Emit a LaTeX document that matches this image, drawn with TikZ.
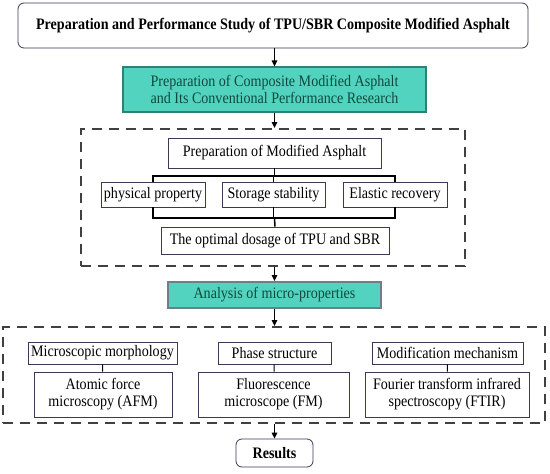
\documentclass[tikz,border=0pt]{standalone}
\usepackage{fontspec}
\setmainfont{Liberation Serif}[FakeStretch=0.88]
\usetikzlibrary{arrows.meta}
\definecolor{tealfill}{HTML}{52D3BF}
\definecolor{tealline}{HTML}{2F8075}
\definecolor{tealtext}{HTML}{0E4A3C}
\definecolor{boxline}{HTML}{3A3A55}
\definecolor{dashline}{HTML}{404040}
\definecolor{graybord}{HTML}{6E7F85}
\begin{document}
\begin{tikzpicture}[x=1pt,y=-1pt,
  box/.style={draw=boxline,line width=0.8pt,fill=white,inner sep=0pt,align=center,
    font=\fontsize{16}{17}\selectfont},
  tealbox/.style={box,draw=tealline,line width=1.2pt,fill=tealfill,text=tealtext},
  dashbox/.style={draw=dashline,line width=2pt,dash pattern=on 10pt off 7pt,inner sep=0pt},
  arr/.style={-{Triangle[length=6pt,width=5.5pt]},line width=1.4pt,black},
  link/.style={line width=1.5pt,black}]
\useasboundingbox (0,0) rectangle (550,474);
\node[box,rounded corners=6pt,minimum width=510,minimum height=45,font=\fontsize{16}{17}\selectfont\bfseries] (title) at (273,25.5) {Preparation and Performance Study of TPU/SBR Composite Modified Asphalt};
\node[tealbox,minimum width=303,minimum height=45] (prep) at (274.5,89.5) {Preparation of Composite Modified Asphalt\\and Its Conventional Performance Research};
\node[dashbox,minimum width=384,minimum height=137] (dashA) at (273,197.5) {};
\node[box,minimum width=213,minimum height=30] (modasp) at (274.5,153) {Preparation of Modified Asphalt};
\node[box,minimum width=104,minimum height=25] (phys) at (153,194.5) {physical property};
\node[box,minimum width=103,minimum height=25] (stor) at (273.5,194.5) {Storage stability};
\node[box,minimum width=104,minimum height=25] (elas) at (395,194.5) {Elastic recovery};
\node[box,minimum width=228,minimum height=27] (opt) at (275,240.5) {The optimal dosage of TPU and SBR};
\node[tealbox,draw=graybord,line width=2pt,minimum width=213,minimum height=26] (ana) at (274.5,295) {Analysis of micro-properties};
\node[dashbox,minimum width=542,minimum height=96] (dashB) at (274,375) {};
\node[box,minimum width=149,minimum height=22] (morph) at (102.5,353) {Microscopic morphology};
\node[box,minimum width=113,minimum height=22] (phase) at (274.5,353) {Phase structure};
\node[box,minimum width=151,minimum height=22] (mech) at (447.5,353) {Modification mechanism};
\node[box,minimum width=138,minimum height=45] (afm) at (103,394.5) {Atomic force\\microscopy (AFM)};
\node[box,minimum width=151,minimum height=45] (fm) at (273.5,394.5) {Fluorescence\\microscope (FM)};
\node[box,minimum width=164,minimum height=45] (ftir) at (447,394.5) {Fourier transform infrared\\spectroscopy (FTIR)};
\node[box,rounded corners=6pt,minimum width=77,minimum height=28,font=\fontsize{16}{17}\selectfont\bfseries] (res) at (274.5,453) {Results};
\coordinate (topbar) at (274.5,176);
\coordinate (botbar) at (274.5,218);
\draw[arr] (title.south -| prep.north) -- (prep.north);
\draw[arr] (prep.south) -- (dashA.north -| prep.south);
\draw[arr] (dashA.south -| ana.north) -- (ana.north);
\draw[arr] (ana.south) -- (dashB.north -| ana.south);
\draw[arr] (dashB.south -| res.north) -- (res.north);
\draw[link] (modasp.south) -- (topbar);
\draw[link] (phys.north) |- (topbar) -| (elas.north);
\draw[link] (stor.north) -- (stor.north |- topbar);
\draw[link] (phys.south) |- (botbar) -| (elas.south);
\draw[link] (stor.south) -- (stor.south |- botbar);
\draw[link] (botbar) -- (opt.north);
\draw[link,line width=1pt] (morph) -- (afm);
\draw[link,line width=1pt] (phase) -- (fm);
\draw[link,line width=1pt] (mech) -- (ftir);
\end{tikzpicture}
\end{document}
